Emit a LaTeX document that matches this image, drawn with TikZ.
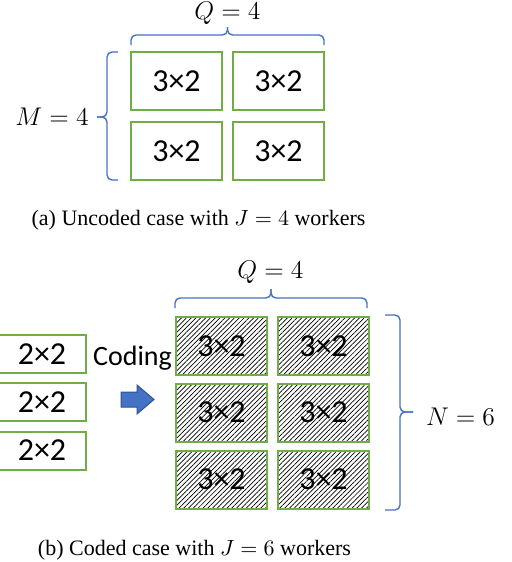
\documentclass[tikz,border=0pt]{standalone}
\usepackage{fix-cm}
\usepackage{fontspec}
\setmainfont{Liberation Serif}
\newfontfamily\calibri{Carlito}
\usetikzlibrary{positioning,calc,patterns.meta}
\definecolor{offgreen}{HTML}{70AD47}
\definecolor{offblue}{HTML}{4472C4}
\definecolor{offdarkblue}{HTML}{2F528F}
\tikzset{
  block/.style={draw=offgreen, line width=1pt, minimum width=45.5pt, minimum height=29pt,
    inner sep=0pt, font=\calibri\fontsize{16}{19}\selectfont},
  coded/.style={block, pattern={Lines[angle=45, distance=1.7pt, line width=0.35pt]}},
  small/.style={block, minimum width=44pt, minimum height=19pt},
  curly/.style={draw=offblue, line width=0.7pt, rounded corners=2.5pt},
  eq/.style={font=\fontsize{12.8}{15}\selectfont},
  caption/.style={font=\fontsize{11}{13}\selectfont}
}
\begin{document}
\begin{tikzpicture}[x=0.5pt, y=-0.5pt]
        \useasboundingbox (0,0) rectangle (512,562);

        % Uncoded blocks
        \node[block] (u11) at (176.5, 81) {3×2};
        \node[block] (u12) at (278.5, 81) {3×2};
        \node[block] (u21) at (176.5, 151) {3×2};
        \node[block] (u22) at (278.5, 151) {3×2};

        % Uncoded braces
        \node[eq] (qa) at (227.5, 13) {$Q = 4$};
        \draw[curly] (131, 45) |- (227.5, 35) -- (227.5, 27);
        \draw[curly] (227.5, 27) -- (227.5, 35) -| (324, 45);
        \node[eq] (ma) at (52, 117) {$M = 4$};
        \draw[curly] (118, 52) -| (107, 117) -- (97, 117);
        \draw[curly] (97, 117) -- (107, 117) |- (118, 180);

        \node[caption] (capa) at (198.5, 220) {(a) Uncoded case with $J = 4$ workers};

        % Input blocks
        \node[small] (s1) at (42, 354) {2×2};
        \node[small] (s2) at (42, 402) {2×2};
        \node[small] (s3) at (42, 450.5) {2×2};
        \node[font=\calibri\fontsize{14}{17}\selectfont] (coding) at (132.5, 358) {Coding};

        % Coding arrow
        \draw[offdarkblue, fill=offblue, line width=0.5pt]
            (121, 392) -- (137, 392) -- (137, 385) -- (154, 399.5) -- (137, 414)
            -- (137, 407) -- (121, 407) -- cycle;

        % Coded blocks
        \node[coded] (c11) at (221.5, 346) {3×2};
        \node[coded] (c12) at (323.5, 346) {3×2};
        \node[coded] (c21) at (221.5, 412.5) {3×2};
        \node[coded] (c22) at (323.5, 412.5) {3×2};
        \node[coded] (c31) at (221.5, 479.5) {3×2};
        \node[coded] (c32) at (323.5, 479.5) {3×2};

        % Coded braces
        \node[eq] (qb) at (270.5, 272) {$Q = 4$};
        \draw[curly] (175, 308) |- (271, 298) -- (271, 289);
        \draw[curly] (271, 289) -- (271, 298) -| (367, 308);
        \node[eq] (nb) at (460.5, 417) {$N = 6$};
        \draw[curly] (385, 315) -| (400, 412) -- (413, 412);
        \draw[curly] (413, 412) -- (400, 412) |- (385, 510);

        \node[caption] (capb) at (194.5, 550) {(b) Coded case with $J = 6$ workers};
    \end{tikzpicture}
\end{document}
